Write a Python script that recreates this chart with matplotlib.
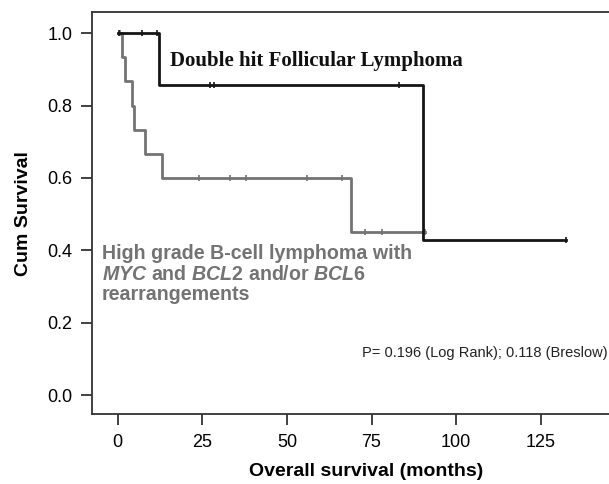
import matplotlib
matplotlib.use("Agg")
import matplotlib.pyplot as plt

# Kaplan-Meier steps
dh_times = [0, 12.2, 90.3, 132.4]
dh_surv = [1.0, 0.857, 0.429, 0.429]
dh_cens_t = [0.3, 7.3, 11.7, 27.4, 28.4, 83.2, 132.4]
dh_cens_s = [1.0, 1.0, 1.0, 0.857, 0.857, 0.857, 0.429]

hg_times = [0.6, 1.2, 2.0, 4.3, 4.9, 8.1, 13.0, 68.9, 90.8]
hg_surv = [1.0, 0.933, 0.867, 0.8, 0.733, 0.667, 0.6, 0.45, 0.45]
hg_cens_t = [0.6, 24.0, 33.2, 37.9, 56.0, 66.2, 73.1, 78.2, 90.8]
hg_cens_s = [1.0, 0.6, 0.6, 0.6, 0.6, 0.6, 0.45, 0.45, 0.45]

xticks = [0, 25, 50, 75, 100, 125]
yticks = [0.0, 0.2, 0.4, 0.6, 0.8, 1.0]

plt.rcParams["font.family"] = "Liberation Sans"
plt.rcParams["mathtext.fontset"] = "custom"
plt.rcParams["mathtext.it"] = "Liberation Sans:italic:bold"
plt.rcParams["mathtext.rm"] = "Liberation Sans:bold"

black = "#151515"
gray = "#737373"

fig = plt.figure(figsize=(6.09, 4.84), dpi=100)
# right spine falls outside the picture, as in the original crop
ax = fig.add_axes([0.1506, 0.144, 0.9, 0.831])

ax.step(hg_times, hg_surv, where="post", color=gray, lw=2.0)
ax.plot(hg_cens_t, hg_cens_s, ls="none", marker="|", ms=5, mew=1.2, color=gray)
ax.step(dh_times, dh_surv, where="post", color=black, lw=2.0)
ax.plot(dh_cens_t, dh_cens_s, ls="none", marker="|", ms=5, mew=1.2, color=black)

ax.set_xlim(-7.7, 154.3)
ax.set_ylim(-0.053, 1.058)
ax.set_xticks(xticks)
ax.set_xticklabels([str(t) for t in xticks])
ax.set_yticks(yticks)
ax.set_yticklabels(["%.1f" % t for t in yticks])
ax.tick_params(labelsize=13, length=8, width=1.3, pad=6, color="#333333")

for s in ax.spines.values():
    s.set_linewidth(1.3)
    s.set_color("#333333")

ax.set_xlabel("Overall survival (months)", fontsize=14, fontweight="bold", labelpad=9)
ax.set_ylabel("Cum Survival", fontsize=14, fontweight="bold", labelpad=11)

ax.text(15.5, 0.923, "Double hit Follicular Lymphoma", family="Liberation Serif",
        fontsize=15, fontweight="bold", color="#111111", va="center")
ax.text(-4.7, 0.418,
        "High grade B-cell lymphoma with\n"
        "$\\mathit{MYC}$ and $\\mathit{BCL}$2 and/or $\\mathit{BCL}$6\n"
        "rearrangements",
        fontsize=14.1, fontweight="bold", color=gray, va="top", linespacing=1.12)
ax.text(72.1, 0.116, "P= 0.196 (Log Rank); 0.118 (Breslow)",
        family=["Liberation Sans Narrow", "Liberation Sans"], fontsize=10.5,
        color="#222222", va="center")

fig.savefig("out.png", dpi=100)
